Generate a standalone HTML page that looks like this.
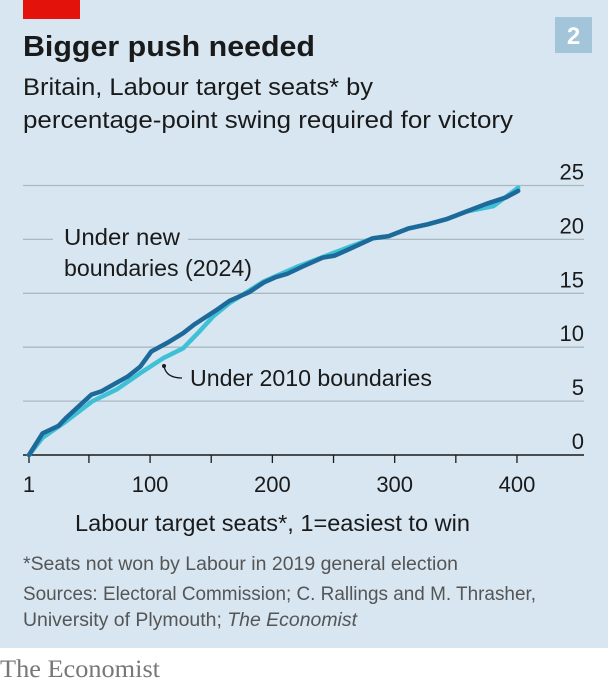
<!DOCTYPE html>
<html><head><meta charset="utf-8"><style>
body{margin:0;background:#fff}
svg{display:block}
text{font-family:"Liberation Sans",sans-serif}
text.serif{font-family:"Liberation Serif",serif}
</style></head><body>
<svg width="608" height="685" viewBox="0 0 608 685">
<rect x="0" y="0" width="608" height="648" fill="#d7e6f0"/>
<rect x="23" y="0" width="57" height="19" fill="#e3120b"/>
<rect x="555" y="17" width="37" height="36" fill="#a3c5da"/>
<text x="573.5" y="44" text-anchor="middle" font-size="24" font-weight="bold" fill="#fff">2</text>
<text x="23" y="56" font-size="29" font-weight="bold" fill="#1a1a1a" textLength="292" lengthAdjust="spacingAndGlyphs">Bigger push needed</text>
<text x="23" y="95" font-size="24" fill="#1a1a1a" textLength="350" lengthAdjust="spacingAndGlyphs">Britain, Labour target seats* by</text>
<text x="23" y="128" font-size="24" fill="#1a1a1a" textLength="490" lengthAdjust="spacingAndGlyphs">percentage-point swing required for victory</text>
<g id="grid"></g>
<g id="axes"></g>
<g id="lines"></g>
<text x="64" y="245" font-size="23" fill="#1a1a1a" textLength="116" lengthAdjust="spacingAndGlyphs">Under new</text>
<text x="64" y="276" font-size="23" fill="#1a1a1a" textLength="188" lengthAdjust="spacingAndGlyphs">boundaries (2024)</text>
<path d="M164,366 Q166,378 182,378" fill="none" stroke="#1a1a1a" stroke-width="1.3"/>
<circle cx="164" cy="366" r="2" fill="#1a1a1a"/>
<text x="190" y="386" font-size="23" fill="#1a1a1a" textLength="242" lengthAdjust="spacingAndGlyphs">Under 2010 boundaries</text>
<text x="75" y="531" font-size="23" fill="#1a1a1a" textLength="395" lengthAdjust="spacingAndGlyphs">Labour target seats*, 1=easiest to win</text>
<text x="23" y="570" font-size="19" fill="#555" textLength="435" lengthAdjust="spacingAndGlyphs">*Seats not won by Labour in 2019 general election</text>
<text x="23" y="600" font-size="19" fill="#555" textLength="513" lengthAdjust="spacingAndGlyphs">Sources: Electoral Commission; C. Rallings and M. Thrasher,</text>
<text x="23" y="626" font-size="19" fill="#555" textLength="334" lengthAdjust="spacingAndGlyphs">University of Plymouth; <tspan font-style="italic">The Economist</tspan></text>
<text class="serif" x="0" y="677" font-size="25" fill="#777" textLength="160" lengthAdjust="spacingAndGlyphs">The Economist</text>
</svg>
<script>
const yTicks=[0,5,10,15,20,25];
const xTicks=[1,100,200,300,400];
const xMinorTicks=[50,150,250,350];
const seatsNew=[1,12,25,31,52,60,82,92,101,114,127,136,155,165,181,193,203,212,225,241,251,263,282,295,311,327,343,359,375,391,401];
const swingNew=[0,2.0,2.7,3.4,5.6,5.9,7.3,8.2,9.6,10.4,11.3,12.1,13.5,14.3,15.1,16.0,16.5,16.8,17.5,18.3,18.5,19.1,20.1,20.3,21.0,21.4,21.9,22.6,23.3,23.9,24.5];
const seatsOld=[1,12,31,53,73,92,111,127,139,152,165,193,219,263,282,295,311,327,343,359,381,401];
const swingOld=[0,1.6,3.1,5.0,6.1,7.6,9.0,9.9,11.3,12.9,14.1,16.1,17.4,19.3,20.1,20.3,21.0,21.4,21.9,22.6,23.1,24.8];
const NS='http://www.w3.org/2000/svg';
const xs=s=>29+(s-1)*122.3/100;
const ys=v=>455-v*53.9/5;
function mk(tag,attrs,parent){const e=document.createElementNS(NS,tag);for(const k in attrs)e.setAttribute(k,attrs[k]);document.getElementById(parent).appendChild(e);return e;}
yTicks.forEach(v=>{
  const y=ys(v);
  if(v===0)return;
  if(v===20){
    const a=mk('line',{x1:23,x2:53,y1:y,y2:y,stroke:'#aab8c2','stroke-width':1.3},'grid');
    
    
    const b=mk('line',{x1:188,x2:584,y1:y,y2:y,stroke:'#aab8c2','stroke-width':1.3},'grid');
    
    
  } else {
    const g=mk('line',{x1:23,x2:584,y1:y,y2:y,stroke:'#aab8c2','stroke-width':1.3},'grid');
    
    
  }
});
yTicks.forEach(v=>{
  const t=mk('text',{x:584,y:ys(v)-6,'text-anchor':'end','font-size':22,fill:'#1a1a1a'},'axes');
  t.textContent=v;
  
  
});
const ax=mk('line',{x1:23,x2:584,y1:ys(0),y2:ys(0),stroke:'#1a1a1a','stroke-width':1.5},'axes');


xTicks.concat(xMinorTicks).forEach(s=>{
  const l=mk('line',{x1:xs(s),x2:xs(s),y1:ys(0),y2:ys(0)+8,stroke:'#1a1a1a','stroke-width':1.3},'axes');
  
  
});
xTicks.forEach(s=>{
  const t=mk('text',{x:xs(s),y:492,'text-anchor':'middle','font-size':22,fill:'#1a1a1a'},'axes');
  t.textContent=s;
  
  
});
function pts(sx,sy){return sx.map((s,i)=>xs(s).toFixed(1)+','+ys(sy[i]).toFixed(1)).join(' ');}
const lo=mk('polyline',{points:pts(seatsOld,swingOld),fill:'none',stroke:'#3ec1d6','stroke-width':4.5,'stroke-linejoin':'round','stroke-linecap':'round'},'lines');


const ln=mk('polyline',{points:pts(seatsNew,swingNew),fill:'none',stroke:'#1d6a9a','stroke-width':4.5,'stroke-linejoin':'round','stroke-linecap':'round'},'lines');


</script>
</body></html>
